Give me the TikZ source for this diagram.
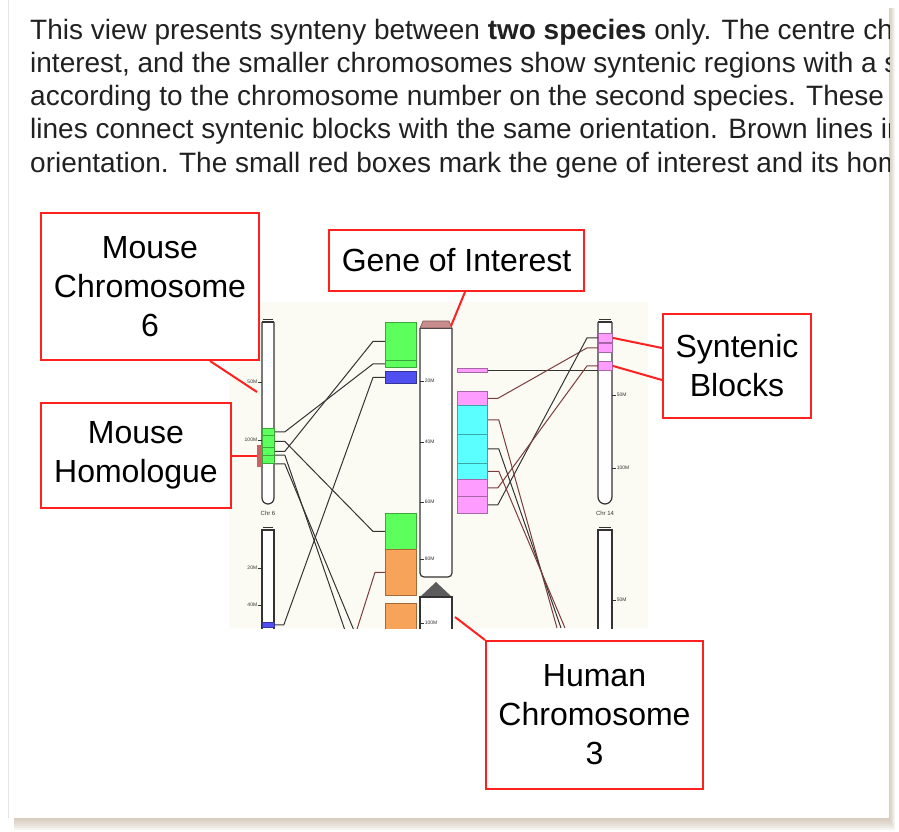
\documentclass[tikz,border=0pt]{standalone}
\usepackage{fontspec}
\setmainfont{Liberation Sans}
\usepackage{tikz}
\usetikzlibrary{calc, positioning}
\definecolor{synred}{HTML}{FF2020}
\definecolor{synbrown}{HTML}{7A3C3C}
\definecolor{syngray}{HTML}{333333}
\definecolor{syncream}{HTML}{FCFBF3}
\definecolor{syngreen}{HTML}{5CFF5C}
\definecolor{synblue}{HTML}{5050F0}
\definecolor{synorange}{HTML}{F8A35A}
\definecolor{syncyan}{HTML}{5CFFFF}
\definecolor{synpink}{HTML}{FF9CFF}
\definecolor{goired}{HTML}{C98C8C}
\definecolor{homred}{HTML}{C86464}
\definecolor{pageshadow}{HTML}{BFAE98}

\begin{document}
\begin{tikzpicture}[x=1pt, y=-1pt,
    callout/.style={draw=synred, line width=2pt, fill=white, anchor=north west,
                    align=center, inner sep=0pt, font=\fontsize{32}{39}\selectfont},
    lead/.style={synred, line width=2pt},
    blk/.style={draw=#1!65!black, fill=#1, anchor=north west, inner sep=0pt,
                line width=0.8pt},
    chr/.style={draw=syngray, fill=white, line width=1.2pt},
    syn/.style={syngray, line width=1pt},
    synb/.style={synbrown, line width=1pt},
    tck/.style={font=\fontsize{5}{5}\selectfont, inner sep=0.5pt, text=syngray},
    intro/.style={anchor=base west, inner sep=0pt, text=black!87,
                  font=\fontsize{28}{33}\selectfont},
]
    \useasboundingbox (0,0) rectangle (899,832);

    % Page and its shadow
    \foreach \k in {1,...,6}
        \fill[pageshadow, opacity=0.14] (14,8) rectangle (889+\k, 818+2*\k);
    \fill[white] (8,-1) rectangle (889,818);
    \draw[black!10, line width=0.5pt] (8,-1) -- (8,818);

    % Intro text, cut at the page edge
    \begin{scope}
        \clip (8,0) rectangle (889,818);
        \node[intro] (l1) at (30,40) {This view presents synteny between \textbf{two species} only. The centre ch};
        \node[intro] (l2) at (30,73) {interest, and the smaller chromosomes show syntenic regions with a s};
        \node[intro] (l3) at (30,106) {according to the chromosome number on the second species. These};
        \node[intro] (l4) at (30,139) {lines connect syntenic blocks with the same orientation. Brown lines in};
        \node[intro] (l5) at (30,172) {orientation. The small red boxes mark the gene of interest and its hom};
    \end{scope}

    % Synteny view
    \begin{scope}
        \clip (229,302) rectangle (648,628);
        \fill[syncream] (229,302) rectangle (648,628);

        % Mouse chromosomes
        \filldraw[chr, rounded corners=6pt] (262,322) -- (262,504) -- (274,504) -- (274,322);
        \draw[chr] (262,322) -- (274,322);
        \draw[syngray, line width=0.6pt] (263,319) -- (273,319);
        \filldraw[chr] (262,530) -- (262,650) -- (274,650) -- (274,530) -- cycle;
        \draw[syngray, line width=0.6pt] (263,527) -- (273,527);
        \foreach \y/\lab in {382/50M, 440/100M, 568/20M, 605/40M}
            \draw[syngray, line width=0.6pt] (262,\y) -- (258,\y)
                node[tck, anchor=east] (mt\y) {\lab};
        \node[tck, font=\fontsize{6}{6}\selectfont] (m6lab) at (268,513) {Chr 6};

        % Chromosome 14
        \filldraw[chr, rounded corners=7pt] (598,322) -- (598,504) -- (612,504) -- (612,322);
        \draw[chr] (598,322) -- (612,322);
        \draw[syngray, line width=0.6pt] (599,319) -- (611,319);
        \filldraw[chr] (598,530) -- (598,650) -- (612,650) -- (612,530) -- cycle;
        \draw[syngray, line width=0.6pt] (599,527) -- (611,527);
        \foreach \y/\lab in {395/50M, 468/100M, 600/50M}
            \draw[syngray, line width=0.6pt] (612,\y) -- (616,\y)
                node[tck, anchor=west] (ct\y) {\lab};
        \node[tck, font=\fontsize{6}{6}\selectfont] (c14lab) at (605,513) {Chr 14};

        % Human chromosome 3
        \filldraw[chr, rounded corners=4pt] (420,328) -- (420,577) -- (452,577) -- (452,328);
        \draw[chr] (420,328) -- (452,328);
        \fill[syngray!80] (436,582) -- (452,597) -- (420,597) -- cycle;
        \filldraw[chr] (420,650) -- (420,597) -- (452,597) -- (452,650);
        \foreach \y/\lab in {381/20M, 442/40M, 502/60M, 559/80M, 623/100M}
            \draw[syngray, line width=0.6pt] (420,\y) -- (424,\y)
                node[tck, anchor=west] (ht\y) {\lab};
        \filldraw[fill=goired, draw=goired!60!black, line width=0.6pt]
            (420,328) -- (423,321) -- (449,321) -- (452,328) -- cycle;
        \coordinate (goitop) at (451,326);

        % Blocks on the mouse side
        \node[blk=syngreen, minimum width=12, minimum height=7] (mg1) at (262,428) {};
        \node[blk=syngreen, minimum width=12, minimum height=12] (mg2) at (262,435) {};
        \node[blk=syngreen, minimum width=12, minimum height=8] (mg3) at (262,447) {};
        \node[blk=syngreen, minimum width=12, minimum height=8] (mg4) at (262,455) {};
        \node[fill=homred, anchor=north west, inner sep=0pt, minimum width=5,
              minimum height=22] (hom) at (257,445) {};
        \node[blk=synblue, minimum width=12, minimum height=5] (mb) at (262,622) {};

        \node[blk=syngreen, minimum width=31, minimum height=38] (hg1) at (385,322) {};
        \node[blk=syngreen, minimum width=31, minimum height=7] (hg2) at (385,360) {};
        \node[blk=synblue, minimum width=31, minimum height=12] (hb1) at (385,371) {};
        \node[blk=syngreen, minimum width=31, minimum height=36] (hg3) at (385,513) {};
        \node[blk=synorange, minimum width=31, minimum height=46] (ho1) at (385,549) {};
        \node[blk=synorange, minimum width=31, minimum height=40] (ho2) at (385,603) {};

        % Blocks on the chromosome 14 side
        \node[blk=synpink, minimum width=30, minimum height=4] (rm) at (457,368) {};
        \node[blk=synpink, minimum width=30, minimum height=14] (rp1) at (457,391) {};
        \node[blk=syncyan, minimum width=30, minimum height=29] (rc1) at (457,405) {};
        \node[blk=syncyan, minimum width=30, minimum height=29] (rc2) at (457,434) {};
        \node[blk=syncyan, minimum width=30, minimum height=16] (rc3) at (457,463) {};
        \node[blk=synpink, minimum width=30, minimum height=17] (rp2) at (457,479) {};
        \node[blk=synpink, minimum width=30, minimum height=17] (rp3) at (457,496) {};

        \node[blk=synpink, minimum width=14, minimum height=9] (c1) at (598,333) {};
        \node[blk=synpink, minimum width=14, minimum height=9] (c2) at (598,343) {};
        \node[blk=synpink, minimum width=14, minimum height=9] (c3) at (598,361) {};

        % Links to the mouse
        \coordinate (offL1) at (350,645);
        \coordinate (offL2) at (360,645);
        \coordinate (offL3) at (352,645);
        \draw[syn] (mg1.east) -- ++(10,0) -- ($(hg2.west)+(-12,0)$) -- (hg2.west);
        \draw[syn] (mg2.east) -- ++(10,0) -- ($(hg3.west)+(-12,0)$) -- (hg3.west);
        \draw[syn] (mg3.east) -- ++(10,0) -- ($(hg1.west)+(-12,0)$) -- (hg1.west);
        \draw[syn] (mg4.north east) -- ++(10,0) -- (offL1);
        \draw[syn] (mg4.south east) -- ++(10,0) -- (offL2);
        \draw[syn] (mb.east) -- ++(9,0) -- ($(hb1.west)+(-12,0)$) -- (hb1.west);
        \draw[synb] (ho1.west) -- ++(-10,0) -- (offL3);

        % Links to chromosome 14
        \coordinate (offR1) at (557,628);
        \coordinate (offR2) at (561,628);
        \coordinate (offR3) at (565,628);
        \draw[syn] (rm.east) -- (rm.east -| c3.west);
        \draw[synb] (rp1.east) -- ++(10,0) -- ($(c2.west)+(-11,0)$) -- (c2.west);
        \draw[syn] (rp3.east) -- ++(10,0) -- ($(c1.west)+(-11,0)$) -- (c1.west);
        \draw[synb] (rp2.east) -- ++(10,0) -- ($(c3.west)+(-11,0)$) -- (c3.west);
        \draw[synb] (rc1.east) -- ++(11,0) -- (offR1);
        \draw[syn] (rc2.east) -- ++(11,0) -- (offR2);
        \draw[synb] (rc3.east) -- ++(11,0) -- (offR3);
    \end{scope}

    % Callouts
    \node[callout, minimum width=218, minimum height=147] (mchr) at (40,212) {Mouse\\Chromosome\\6};
    \node[callout, minimum width=190, minimum height=105] (mhom) at (40,402) {Mouse\\Homologue};
    \node[callout, minimum width=255, minimum height=61] (goi) at (328,229) {Gene of Interest};
    \node[callout, minimum width=148, minimum height=104] (synb) at (662,313) {Syntenic\\Blocks};
    \node[callout, minimum width=217, minimum height=148] (hchr) at (485,640) {Human\\Chromosome\\3};

    % Leaders
    \coordinate (mchrtip) at (257,392);
    \coordinate (hchrtip) at (455,617);
    \draw[lead] ([xshift=170pt]mchr.south west) -- (mchrtip);
    \draw[lead] (mhom.east) -- (mhom.east -| hom.west);
    \draw[lead] ([xshift=137pt]goi.south west) -- (goitop);
    \draw[lead] ([yshift=18pt]synb.west) -- (c1.east);
    \draw[lead] ([yshift=-14pt]synb.west) -- (c3.east);
    \draw[lead] (hchr.north west) -- (hchrtip);
\end{tikzpicture}
\end{document}
